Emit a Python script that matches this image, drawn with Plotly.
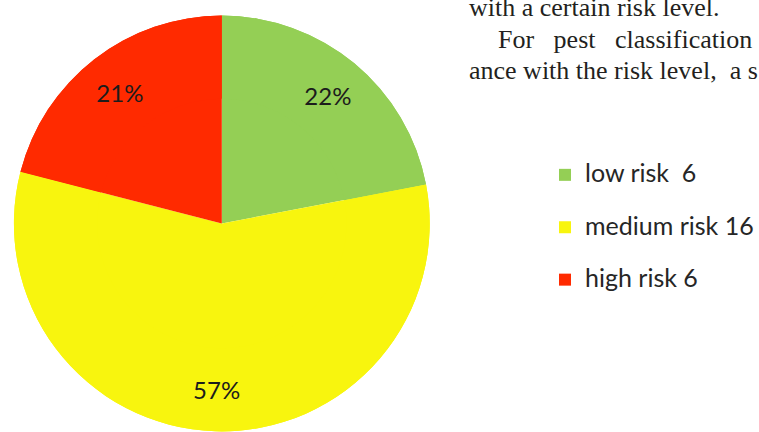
import plotly.graph_objects as go

# Pest counts per risk class and the rounded shares printed on the chart
risk_names = ["low risk\u00a0", "medium risk", "high risk"]
risk_counts = [6, 16, 6]
risk_shares = [22, 57, 21]
risk_colors = ["#94CF55", "#F8F50E", "#FF2A00"]

legend_labels = [
    f"<span style='font-size:25px'>{n} {c}</span><br>\u00a0"
    for n, c in zip(risk_names, risk_counts)
]

W, H = 759, 432
cx, r_px, top_px = 223, 209, 15
pie_domain = dict(
    x=[(cx - r_px) / W, (cx + r_px) / W],
    y=[0, (H - top_px) / H],
)

fig = go.Figure()

# Full disc underneath
fig.add_trace(go.Pie(
    labels=legend_labels,
    values=risk_shares,
    sort=False,
    direction="clockwise",
    rotation=0,
    marker=dict(colors=risk_colors, line=dict(width=0)),
    textinfo="none",
    hoverinfo="skip",
    showlegend=False,
    domain=pie_domain,
))

# Outer ring carrying the percentage labels and the legend
fig.add_trace(go.Pie(
    labels=legend_labels,
    values=risk_shares,
    sort=False,
    direction="clockwise",
    rotation=0,
    hole=0.6,
    marker=dict(colors=risk_colors, line=dict(width=0)),
    textinfo="percent",
    texttemplate="%{value}%",
    textposition="inside",
    insidetextorientation="horizontal",
    textfont=dict(family="Lato", size=24, color="#1c1c1c"),
    hoverinfo="label+percent",
    showlegend=True,
    domain=pie_domain,
))

# Surrounding body text of the page
body_lines = [
    ("with a certain risk level.", 470, 15),
    ("For\u00a0\u00a0\u00a0pest\u00a0\u00a0\u00a0classification", 500, 47),
    ("ance\u00a0with\u00a0the\u00a0risk\u00a0level,\u00a0\u00a0a\u00a0s", 470, 78),
]
body_size = 26
for txt, x0, base in body_lines:
    fig.add_annotation(
        text=txt, xref="paper", yref="paper",
        x=x0 / W, y=1 - (base - 0.3 * body_size) / H,
        xanchor="left", yanchor="middle", showarrow=False,
        font=dict(family="Liberation Serif", size=body_size, color="#231f20"),
        borderpad=0,
    )

fig.update_layout(
    width=W, height=H,
    margin=dict(l=0, r=0, t=0, b=0),
    paper_bgcolor="white",
    plot_bgcolor="white",
    legend=dict(
        x=548 / W, y=1 - 156 / H,
        xanchor="left", yanchor="top",
        valign="top",
        font=dict(family="Lato", size=19, color="#262626"),
        bgcolor="rgba(0,0,0,0)",
        traceorder="normal",
    ),
)

fig.write_html("out.html")
